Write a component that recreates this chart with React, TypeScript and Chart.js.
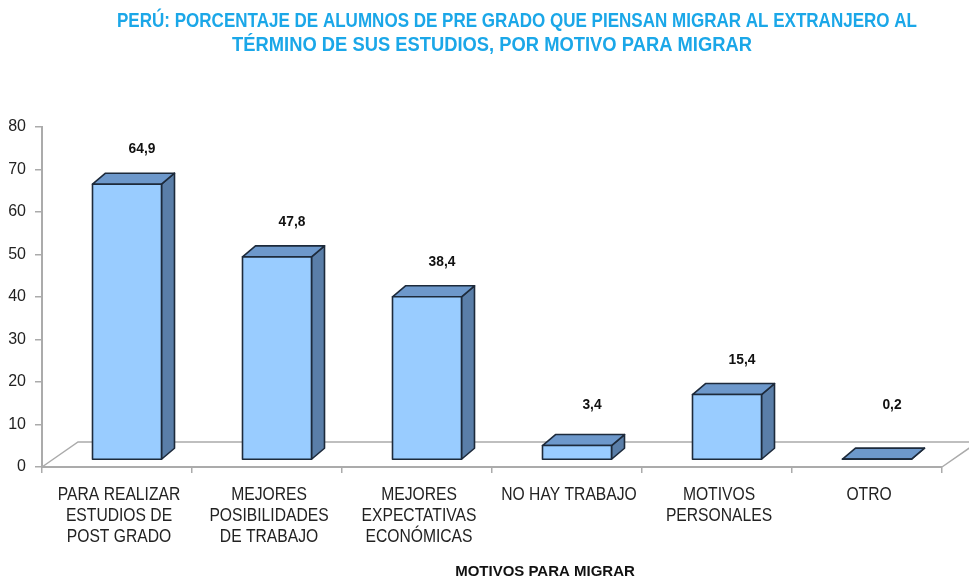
import React, { useEffect, useRef } from 'react';
import { Chart, registerables } from 'chart.js';

Chart.register(...registerables);

const titleLines = [
  'PERÚ: PORCENTAJE DE ALUMNOS DE PRE GRADO QUE PIENSAN MIGRAR AL EXTRANJERO AL',
  'TÉRMINO DE SUS ESTUDIOS, POR MOTIVO PARA MIGRAR',
];
const categories = [
  ['PARA REALIZAR', 'ESTUDIOS DE', 'POST GRADO'],
  ['MEJORES', 'POSIBILIDADES', 'DE TRABAJO'],
  ['MEJORES', 'EXPECTATIVAS', 'ECONÓMICAS'],
  ['NO HAY TRABAJO'],
  ['MOTIVOS', 'PERSONALES'],
  ['OTRO'],
];
const values = [64.9, 47.8, 38.4, 3.4, 15.4, 0.2];
const valueLabels = ['64,9', '47,8', '38,4', '3,4', '15,4', '0,2'];
const xAxisTitle = 'MOTIVOS PARA MIGRAR';
const yMin = 0;
const yMax = 80;
const yStep = 10;

const ARIAL = "'Liberation Sans', Arial, sans-serif";
const GRID = '#ababab';

function scaledText(ctx: any, text: string, x: number, y: number, font: string, color: string, sx: number) {
  ctx.save();
  ctx.font = font;
  ctx.fillStyle = color;
  ctx.textAlign = 'center';
  ctx.textBaseline = 'middle';
  ctx.translate(x, y);
  ctx.scale(sx, 1);
  ctx.fillText(text, 0, 0);
  ctx.restore();
}

function fittedText(ctx: any, text: string, x: number, y: number, font: string, color: string, width: number) {
  ctx.save();
  ctx.font = font;
  const w = ctx.measureText(text).width;
  ctx.restore();
  scaledText(ctx, text, x, y, font, color, width / w);
}

const floorPlugin = {
  id: 'floor3d',
  beforeDatasetsDraw(chart: any) {
    const { ctx, chartArea } = chart;
    const { left, right, bottom } = chartArea;
    const fx = 36, fy = -25;
    ctx.save();
    ctx.strokeStyle = GRID;
    ctx.lineWidth = 1.5;
    ctx.beginPath();
    ctx.moveTo(left, bottom);
    ctx.lineTo(left + fx, bottom + fy);
    ctx.lineTo(right + fx, bottom + fy);
    ctx.moveTo(right, bottom);
    ctx.lineTo(right + fx, bottom + fy);
    ctx.stroke();
    ctx.restore();
  },
};

const bar3dPlugin = {
  id: 'bar3d',
  afterDatasetsDraw(chart: any) {
    const { ctx } = chart;
    const meta = chart.getDatasetMeta(0);
    const ox = 10, oy = -7;
    const dx = 13, dy = -11;
    ctx.save();
    meta.data.forEach((el: any, i: number) => {
      const p = el.getProps(['x', 'y', 'base', 'width'], true);
      const l = p.x - p.width / 2 + ox;
      const r = p.x + p.width / 2 + ox;
      const t = p.y + oy;
      const b = p.base + oy;
      ctx.lineJoin = 'round';
      ctx.lineWidth = 1.6;
      ctx.strokeStyle = '#1d2a3b';
      ctx.beginPath();
      ctx.moveTo(r, t);
      ctx.lineTo(r + dx, t + dy);
      ctx.lineTo(r + dx, b + dy);
      ctx.lineTo(r, b);
      ctx.closePath();
      ctx.fillStyle = '#5a7ea8';
      ctx.fill();
      ctx.stroke();
      ctx.beginPath();
      ctx.moveTo(l, t);
      ctx.lineTo(r, t);
      ctx.lineTo(r + dx, t + dy);
      ctx.lineTo(l + dx, t + dy);
      ctx.closePath();
      ctx.fillStyle = '#6d98cb';
      ctx.fill();
      ctx.stroke();
      ctx.beginPath();
      ctx.rect(l, t, r - l, b - t);
      ctx.fillStyle = '#99ccff';
      ctx.fill();
      ctx.stroke();
      const lx = p.x + ox + dx + 2;
      const ly = Math.min(t - 35, b - 54);
      scaledText(ctx, valueLabels[i], lx, ly, `bold 15px ${ARIAL}`, '#111', 0.92);
    });
    ctx.restore();
  },
};

const textPlugin = {
  id: 'texts',
  afterDraw(chart: any) {
    const { ctx, chartArea } = chart;
    const titleFont = `bold 21px ${ARIAL}`;
    fittedText(ctx, titleLines[0], 517, 21, titleFont, '#1ba7e8', 800);
    fittedText(ctx, titleLines[1], 492, 45, titleFont, '#1ba7e8', 520);
    const xs = chart.scales.x;
    const catFont = `18px ${ARIAL}`;
    categories.forEach((lines, i) => {
      const x = xs.getPixelForTick(i) + 2;
      lines.forEach((line, j) => {
        scaledText(ctx, line, x, chartArea.bottom + 28 + j * 21, catFont, '#222', 0.87);
      });
    });
    ctx.save();
    ctx.fillStyle = '#111';
    ctx.font = `bold 15px ${ARIAL}`;
    ctx.textAlign = 'center';
    ctx.textBaseline = 'middle';
    ctx.fillText(xAxisTitle, 545, 572);
    ctx.restore();
  },
};

export default function App() {
  const ref = useRef<HTMLCanvasElement | null>(null);
  useEffect(() => {
    if (!ref.current) return;
    const chart = new Chart(ref.current, {
      type: 'bar',
      data: {
        labels: categories,
        datasets: [
          {
            data: values,
            backgroundColor: 'rgba(0,0,0,0)',
            borderWidth: 0,
            barPercentage: 0.46,
            categoryPercentage: 1,
          },
        ],
      },
      options: {
        responsive: false,
        animation: false,
        layout: { padding: { left: 0, right: 27, top: 127, bottom: 0 } },
        plugins: {
          legend: { display: false },
          tooltip: { enabled: false },
          title: { display: false },
        },
        scales: {
          x: {
            grid: {
              drawOnChartArea: false,
              drawTicks: true,
              tickLength: 6,
              color: GRID,
              lineWidth: 1.5,
              offset: true,
            },
            border: { color: GRID, width: 2 },
            ticks: {
              color: 'rgba(0,0,0,0)',
              padding: 11,
              maxRotation: 0,
              autoSkip: false,
              font: { family: ARIAL, size: 15 },
            },
            afterFit: (scale: any) => {
              scale.height = 114;
            },
          },
          y: {
            min: yMin,
            max: yMax,
            grid: {
              drawOnChartArea: false,
              drawTicks: true,
              tickLength: 7,
              color: GRID,
              lineWidth: 1.5,
            },
            border: { color: GRID, width: 2 },
            ticks: {
              stepSize: yStep,
              color: '#222',
              padding: 9,
              font: { family: ARIAL, size: 16 },
            },
            afterFit: (scale: any) => {
              scale.width = 42;
            },
          },
        },
      },
      plugins: [floorPlugin, bar3dPlugin, textPlugin],
    });
    return () => chart.destroy();
  }, []);
  return (
    <div style={{ position: 'absolute', left: 0, top: 0, width: 969, height: 581, background: '#fff' }}>
      <canvas ref={ref} width={969} height={581} />
    </div>
  );
}
